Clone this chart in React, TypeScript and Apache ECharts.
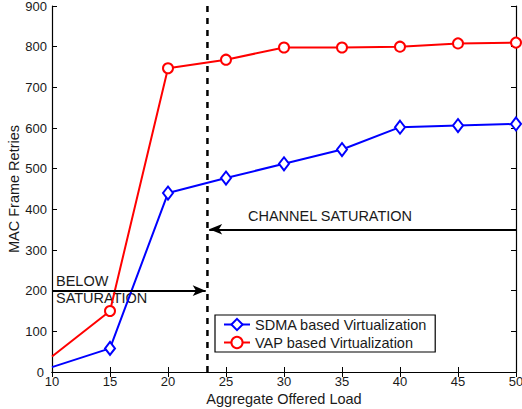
import React, { useEffect, useRef } from "react";
import * as echarts from "echarts";

const loads = [10, 15, 20, 25, 30, 35, 40, 45, 50];
const sdma = [12, 58, 440, 477, 512, 547, 602, 606, 610];
const vap = [38, 150, 747, 768, 798, 798, 800, 808, 810];
const saturationLoad = 23.4;
const belowArrowY = 200;
const channelArrowY = 351;

const FONT = "'Liberation Sans', Arial, Helvetica, sans-serif";
const TXT = "#1a1a1a";
const BIG = 14.5;

export default function App() {
  const ref = useRef<HTMLDivElement>(null);
  useEffect(() => {
    const chart = echarts.init(ref.current!, null, { renderer: "svg" });
    const mk = (arr: number[]) =>
      arr.map((v, i) => (i === 0 ? { value: [loads[i], v], symbol: "none" } : { value: [loads[i], v] }));
    const axisCommon = {
      axisLine: { lineStyle: { color: "#000", width: 1.2 } },
      axisTick: { inside: true, length: 5, lineStyle: { color: "#000" } },
      splitLine: { show: false },
    };
    chart.setOption({
      animation: false,
      backgroundColor: "#fff",
      textStyle: { fontFamily: FONT },
      grid: { left: 52, right: 6, top: 6, bottom: 37, containLabel: false, outerBoundsMode: "none" },
      xAxis: [
        {
          type: "value",
          min: 10,
          max: 50,
          interval: 5,
          position: "bottom",
          ...axisCommon,
          axisLabel: { fontSize: 13, color: TXT, margin: 3, fontFamily: FONT },
          name: "Aggregate Offered Load",
          nameLocation: "middle",
          nameGap: 19,
          nameMoveOverlap: false,
          nameTextStyle: { fontSize: BIG, color: TXT, fontFamily: FONT },
        },
        {
          type: "value",
          min: 10,
          max: 50,
          interval: 5,
          position: "top",
          ...axisCommon,
          axisLabel: { show: false },
        },
      ],
      yAxis: [
        {
          type: "value",
          min: 0,
          max: 900,
          interval: 100,
          position: "left",
          ...axisCommon,
          axisLabel: {
            fontSize: 13,
            color: TXT,
            margin: 5,
            fontFamily: FONT,
            formatter: (v: number) => (v === 0 ? "{z|0}" : String(v)),
            rich: { z: { fontSize: 13, color: TXT, fontFamily: FONT, padding: [0, 3, 0, 0] } },
          },
          name: "MAC Frame Retries",
          nameLocation: "middle",
          nameGap: 31,
          nameMoveOverlap: false,
          nameTextStyle: { fontSize: BIG, color: TXT, fontFamily: FONT },
        },
        {
          type: "value",
          min: 0,
          max: 900,
          interval: 100,
          position: "right",
          ...axisCommon,
          axisLabel: { show: false },
        },
      ],
      legend: {
        left: 215,
        top: 315,
        orient: "vertical",
        backgroundColor: "#fff",
        borderColor: "#000",
        borderWidth: 1.2,
        borderRadius: 0,
        padding: [2, 8, 2, 8],
        itemGap: 3,
        itemWidth: 26,
        itemHeight: 14,
        textStyle: { fontSize: BIG, color: TXT, fontFamily: FONT },
        data: ["SDMA based Virtualization", "VAP based Virtualization"],
      },
      series: [
        {
          name: "SDMA based Virtualization",
          type: "line",
          data: mk(sdma),
          color: "#0000ff",
          lineStyle: { width: 2, color: "#0000ff" },
          symbol: "diamond",
          symbolSize: [10, 13],
          itemStyle: { color: "#fff", borderColor: "#0000ff", borderWidth: 2 },
          z: 3,
        },
        {
          name: "VAP based Virtualization",
          type: "line",
          data: mk(vap),
          color: "#ff0000",
          lineStyle: { width: 2, color: "#ff0000" },
          symbol: "circle",
          symbolSize: 10,
          itemStyle: { color: "#fff", borderColor: "#ff0000", borderWidth: 2 },
          z: 3,
        },
        {
          name: "saturation",
          type: "line",
          data: [
            [saturationLoad, 0],
            [saturationLoad, 900],
          ],
          symbol: "none",
          lineStyle: { color: "#000", width: 2.5, type: [6, 6] },
          z: 4,
          markLine: {
            silent: true,
            symbol: ["none", "arrow"],
            symbolSize: [8, 13],
            lineStyle: { color: "#000", width: 2, type: "solid" },
            label: { show: false },
            data: [
              [{ coord: [10, belowArrowY] }, { coord: [saturationLoad - 0.15, belowArrowY] }],
              [{ coord: [50, channelArrowY] }, { coord: [saturationLoad + 0.15, channelArrowY] }],
            ],
          },
        },
      ],
      graphic: [
        {
          type: "text",
          left: 248,
          top: 208,
          style: { text: "CHANNEL SATURATION", fontSize: BIG, fill: TXT, fontFamily: FONT },
        },
        {
          type: "text",
          left: 56,
          top: 273,
          style: { text: "BELOW", fontSize: BIG, fill: TXT, fontFamily: FONT },
        },
        {
          type: "text",
          left: 56,
          top: 290,
          style: { text: "SATURATION", fontSize: BIG, fill: TXT, fontFamily: FONT },
        },
      ],
    });
    return () => chart.dispose();
  }, []);
  return <div ref={ref} style={{ width: 522, height: 409, position: "absolute", left: 0, top: 0 }} />;
}
